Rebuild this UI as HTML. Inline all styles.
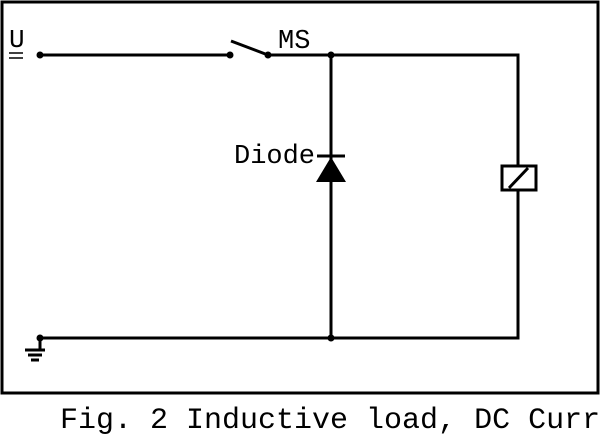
<!DOCTYPE html>
<html><head><style>
html,body{margin:0;padding:0;background:#fff;width:600px;height:439px;overflow:hidden}
text{font-family:"Liberation Mono",monospace;fill:#000}
</style></head><body>
<svg width="600" height="439" viewBox="0 0 600 439" xmlns="http://www.w3.org/2000/svg">
<rect x="2" y="2" width="596" height="391" fill="none" stroke="#000" stroke-width="3"/>
<g stroke="#000" stroke-width="3" fill="none">
<line x1="40" y1="55" x2="230" y2="55"/>
<line x1="231" y1="41" x2="268" y2="55"/>
<polyline points="268,55 518,55 518,338 40,338"/>
<line x1="331" y1="55" x2="331" y2="338"/>
<line x1="317" y1="156" x2="345" y2="156"/>
<line x1="40" y1="338" x2="40" y2="349"/>
<line x1="25" y1="350" x2="45" y2="350"/>
<line x1="28" y1="355" x2="42" y2="355"/>
<line x1="31" y1="360" x2="39" y2="360"/>
<line x1="9" y1="53" x2="23" y2="53" stroke-width="1.5"/>
<line x1="9" y1="58" x2="23" y2="58" stroke-width="1.5"/>
</g>
<polygon points="331,157 316,182 346,182" fill="#000"/>
<rect x="502" y="166" width="34" height="24" fill="#fff" stroke="#000" stroke-width="3"/>
<line x1="509" y1="188" x2="528" y2="168" stroke="#000" stroke-width="3"/>
<g fill="#000">
<circle cx="40" cy="55" r="3.5"/><circle cx="230" cy="55" r="3.5"/><circle cx="268" cy="55" r="3.5"/>
<circle cx="331" cy="55" r="3.5"/><circle cx="331" cy="338" r="3.5"/><circle cx="40" cy="338" r="3.5"/>
</g>
<text x="9" y="47" font-size="26">U</text>
<text x="278" y="48" font-size="27">MS</text>
<text x="234" y="163" font-size="27">Diode</text>
<text x="60" y="428" font-size="30">Fig. 2 Inductive load, DC Curr</text>
</svg>
</body></html>
